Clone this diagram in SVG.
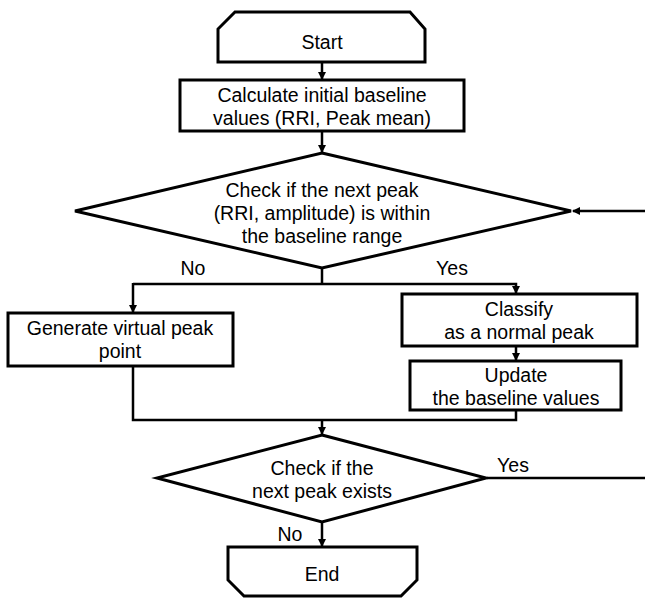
<svg xmlns="http://www.w3.org/2000/svg" width="645" height="601" viewBox="0 0 645 601">
<style>
.s{fill:#fff;stroke:#000;stroke-width:3;stroke-linejoin:miter}
.c{fill:none;stroke:#000;stroke-width:2.5}
text{font-family:"Liberation Sans",Arial,sans-serif;font-size:19.5px;fill:#000;text-anchor:middle}
</style>
<defs>
<marker id="a" markerWidth="8" markerHeight="8" refX="7" refY="4" orient="auto" markerUnits="userSpaceOnUse">
<path d="M0,0 L8,4 L0,8 Z" fill="#000"/>
</marker>
</defs>
<rect width="645" height="601" fill="#fff"/>
<g id="connectors">
<line class="c" x1="322" y1="62" x2="322" y2="79" marker-end="url(#a)"/>
<line class="c" x1="322" y1="131" x2="322" y2="152" marker-end="url(#a)"/>
<line class="c" x1="322" y1="268" x2="322" y2="284"/>
<polyline class="c" points="133,284 516,284 516,293" marker-end="url(#a)"/>
<line class="c" x1="133" y1="283" x2="133" y2="312" marker-end="url(#a)"/>
<line class="c" x1="516" y1="346" x2="516" y2="360" marker-end="url(#a)"/>
<polyline class="c" points="133,366 133,420 516,420 516,410"/>
<line class="c" x1="322" y1="420" x2="322" y2="434" marker-end="url(#a)"/>
<line class="c" x1="322" y1="522" x2="322" y2="546" marker-end="url(#a)"/>
<line class="c" x1="487" y1="478" x2="645" y2="478"/>
<line class="c" x1="645" y1="211" x2="573" y2="211" marker-end="url(#a)"/>
<text x="193" y="275">No</text>
<text x="452" y="275">Yes</text>
<text x="513" y="472">Yes</text>
<text x="290" y="541">No</text>
</g>
<g id="start">
<polygon class="s" points="235,12 410,12 425,29 425,62 218,62 218,29"/>
<text x="322" y="49">Start</text>
</g>
<g id="calc">
<rect class="s" x="180" y="80" width="284" height="51"/>
<text x="322" y="102">Calculate initial baseline</text>
<text x="322" y="125">values (RRI, Peak mean)</text>
</g>
<g id="check1">
<polygon class="s" points="322,153 571,211 322,268 75,211"/>
<text x="322" y="197">Check if the next peak</text>
<text x="322" y="220">(RRI, amplitude) is within</text>
<text x="322" y="243">the baseline range</text>
</g>
<g id="generate">
<rect class="s" x="8" y="313" width="225" height="53"/>
<text x="120" y="335">Generate virtual peak</text>
<text x="120" y="358">point</text>
</g>
<g id="classify">
<rect class="s" x="402" y="294" width="235" height="52"/>
<text x="519" y="316">Classify</text>
<text x="519" y="339">as a normal peak</text>
</g>
<g id="update">
<rect class="s" x="410" y="361" width="211" height="49"/>
<text x="516" y="382">Update</text>
<text x="516" y="405">the baseline values</text>
</g>
<g id="check2">
<polygon class="s" points="322,435 486,478 322,522 157,478"/>
<text x="322" y="475">Check if the</text>
<text x="322" y="498">next peak exists</text>
</g>
<g id="end">
<polygon class="s" points="228,547 417,547 417,580 401,596 244,596 228,580"/>
<text x="322" y="581">End</text>
</g>
</svg>
